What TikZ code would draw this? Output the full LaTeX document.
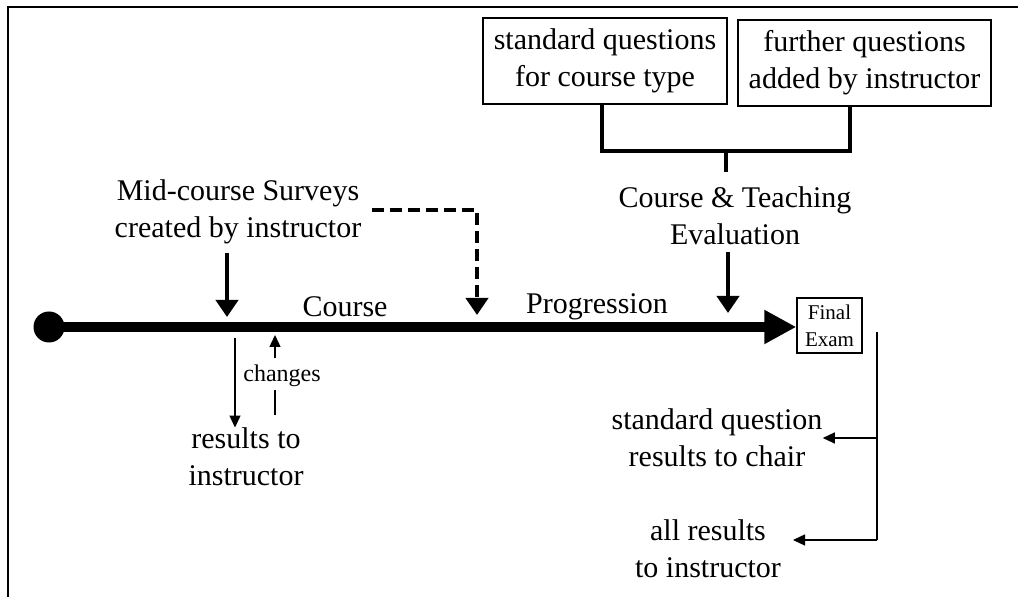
\documentclass[tikz,border=0pt]{standalone}
\usepackage{fontspec}
\setmainfont{Liberation Serif}
\usetikzlibrary{arrows.meta}
\begin{document}
\begin{tikzpicture}[x=0.5pt,y=-0.5pt,
  txt/.style={align=center,inner sep=0pt,font=\fontsize{15}{18.5}\selectfont},
  qbox/.style={txt,draw,line width=0.7pt,minimum height=43pt},
  small/.style={inner sep=0pt,font=\fontsize{12}{14}\selectfont},
  exambox/.style={draw,line width=0.7pt,align=center,inner sep=0pt,minimum width=32.5pt,minimum height=27.5pt,font=\fontsize{10.5}{13.5}\selectfont},
  med/.style={line width=2pt,-{Triangle[length=8.5pt,width=11pt]}},
  thin/.style={line width=0.65pt,-{Triangle[length=6pt,width=5.5pt]}},
  thinline/.style={line width=0.65pt},
  bracket/.style={line width=2pt}]
\useasboundingbox (0,0) rectangle (1018,597);
% frame
\draw[line width=1.2pt] (8,597) -- (8,7) -- (1018,7);
% top boxes
\node[qbox,minimum width=122pt] (b1) at (605,61) {standard questions\\for course type};
\node[qbox,minimum width=126.5pt] (b2) at (864.5,63) {further questions\\added by instructor};
\coordinate (j) at (726,151);
\draw[bracket] (b1.south -| 602,0) -- (602,151) -- (850,151) -- (b2.south -| 850,0);
\coordinate (js) at (726,172);
\draw[bracket] (j) -- (js);
% texts
\node[txt] (cte) at (735,216) {Course \& Teaching\\Evaluation};
\node[txt] (mid) at (238,212) {Mid-course Surveys\\created by instructor};
\node[txt] (course) at (345,307) {Course};
\node[txt] (prog) at (597,307) {Progression};
\node[txt] (res) at (246,457) {results to\\instructor};
\node[small] (chg) at (282,376) {changes};
\node[txt] (chair) at (717,438) {standard question\\results to chair};
\node[txt] (all) at (708,549) {all results\\to instructor};
\node[exambox] (fe) at (829.5,325.5) {Final\\Exam};
% main line
\fill (49,327) circle (15.5);
\coordinate (start) at (49,327);
\draw[line width=5pt,-{Triangle[length=16pt,width=16pt]}] (start) -- (fe.west |- start);
% arrows to line
\coordinate (m1) at (227,317);
\draw[med] (mid.south -| m1) ++(0,8) -- (m1);
\coordinate (d0) at (372,210);
\coordinate (d1) at (477,315);
\draw[med,dash pattern=on 6pt off 3pt] (d0) -| (d1);
\coordinate (c1) at (728,313);
\draw[med] (cte.south -| c1) ++(0,7) -- (c1);
% results / changes
\coordinate (r0) at (235,338);
\draw[thin] (r0) -- (res.north -| r0);
\coordinate (u0) at (275,415);
\coordinate (u1) at (275,335);
\draw[thinline] (u0) -- (275,390);
\draw[thin] (275,358) -- (u1);
% final exam outputs
\coordinate (v0) at (877,332);
\coordinate (v1) at (877,540);
\draw[thinline] (v0) -- (v1);
\draw[thin] (877,438) -- (chair.east |- 0,438);
\draw[thin] (v1) -- (793,540);
\end{tikzpicture}
\end{document}
